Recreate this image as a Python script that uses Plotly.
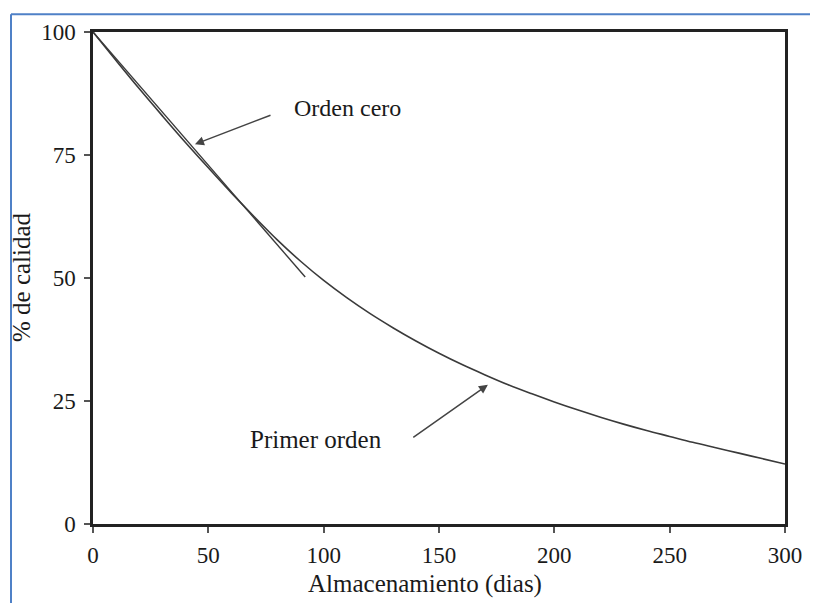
import plotly.graph_objects as go

# Data
dias = [0, 10, 20, 30, 40, 50, 60, 70, 80, 90, 100, 110, 120, 130, 140, 150,
        160, 170, 180, 190, 200, 210, 220, 230, 240, 250, 260, 270, 280, 290, 300]
primer_orden = [100, 94.2, 88.5, 83.0, 77.6, 72.4, 67.3, 62.4, 57.7, 53.4, 49.5,
                46.0, 42.8, 39.9, 37.2, 34.7, 32.4, 30.3, 28.3, 26.5, 24.8,
                23.2, 21.7, 20.3, 19.0, 17.8, 16.6, 15.5, 14.4, 13.3, 12.2]
cero_dias = [0, 92]
cero_orden = [100, 50.2]

x_ticks = [0, 50, 100, 150, 200, 250, 300]
y_ticks = [0, 25, 50, 75, 100]

FONT = "Liberation Serif"
TXT = "#1a1a1a"
LINE = "#3a3a3a"
BLUE = "#4f81c7"

# page has an 8px body margin; figure sized so the plot lands where the reference has it
W, H = 810, 595


def px(x_page):
    return (x_page - 93) / 692


def py(y_page):
    return (524 - y_page) / 500


fig = go.Figure()
fig.add_trace(go.Scatter(x=dias, y=primer_orden, mode="lines",
                         line=dict(color=LINE, width=1.6, shape="spline"),
                         showlegend=False, hoverinfo="skip"))
fig.add_trace(go.Scatter(x=cero_dias, y=cero_orden, mode="lines",
                         line=dict(color=LINE, width=1.4),
                         showlegend=False, hoverinfo="skip"))

fig.update_layout(
    width=W, height=H,
    margin=dict(l=85, r=33, t=16, b=79),
    paper_bgcolor="white", plot_bgcolor="white",
    font=dict(family=FONT, size=24, color=TXT),
    xaxis=dict(range=[0, 300], tickvals=x_ticks, ticks="outside", ticklen=6,
               tickwidth=1.5, tickcolor="#555", showgrid=False, zeroline=False,
               showline=True, linecolor="#222", linewidth=2.5, mirror=True,
               ticklabelstandoff=3,
               tickfont=dict(family=FONT, size=23, color=TXT)),
    yaxis=dict(range=[0, 100], tickvals=y_ticks, ticks="outside", ticklen=6,
               tickwidth=1.5, tickcolor="#555", showgrid=False, zeroline=False,
               showline=True, linecolor="#222", linewidth=2.5, mirror=True,
               ticklabelstandoff=4,
               tickfont=dict(family=FONT, size=23, color=TXT)),
    shapes=[
        dict(type="line", xref="paper", yref="paper", x0=px(11), x1=px(11),
             y0=py(6), y1=py(620), line=dict(color=BLUE, width=2)),
        dict(type="line", xref="paper", yref="paper", x0=px(11), x1=px(830),
             y0=py(6), y1=py(6), line=dict(color=BLUE, width=2)),
    ],
    annotations=[
        dict(text="Orden cero", x=86.3, y=84.6, xref="x", yref="y",
             showarrow=False, xanchor="left", yanchor="middle",
             font=dict(family=FONT, size=24, color=TXT)),
        dict(text="", x=44.2, y=77.2, xref="x", yref="y",
             ax=77.6, ay=83.2, axref="x", ayref="y", showarrow=True,
             arrowhead=2, arrowsize=1.2, arrowwidth=1.5, arrowcolor="#444"),
        dict(text="Primer orden", x=96.7, y=17.2, xref="x", yref="y",
             showarrow=False, xanchor="center", yanchor="middle",
             font=dict(family=FONT, size=25, color=TXT)),
        dict(text="", x=171.2, y=28.3, xref="x", yref="y",
             ax=138.2, ay=17.4, axref="x", ayref="y", showarrow=True,
             arrowhead=2, arrowsize=1.2, arrowwidth=1.5, arrowcolor="#444"),
        dict(text="Almacenamiento (dias)", xref="paper", yref="paper",
             x=px(425), y=py(585), showarrow=False,
             xanchor="center", yanchor="middle",
             font=dict(family=FONT, size=25, color=TXT)),
        dict(text="% de calidad", xref="paper", yref="paper",
             x=px(21), y=py(273), showarrow=False, textangle=-90,
             xanchor="center", yanchor="middle",
             font=dict(family=FONT, size=25, color=TXT)),
    ],
)

fig.write_html("out.html")
